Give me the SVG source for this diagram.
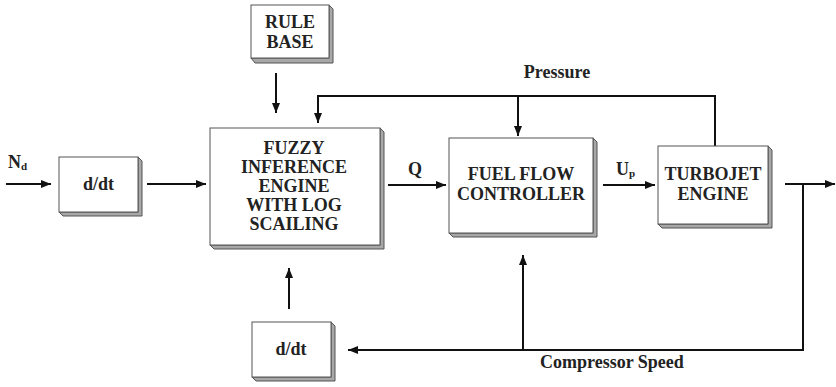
<svg xmlns="http://www.w3.org/2000/svg" width="836" height="387" viewBox="0 0 836 387">
<style>
.box{fill:#fff;stroke:#555;stroke-width:1}
.sh{fill:#a8a8a8;stroke:#555;stroke-width:1}
.t{font-family:"Liberation Serif","Times New Roman",serif;font-weight:bold;font-size:18px;fill:#222;text-anchor:middle}
.l{font-family:"Liberation Serif","Times New Roman",serif;font-weight:bold;font-size:18px;fill:#222}
.c{fill:none;stroke:#111;stroke-width:2}
</style>
<defs>
<marker id="ah" markerUnits="userSpaceOnUse" markerWidth="12" markerHeight="10" refX="10" refY="4" orient="auto">
<path d="M0,0 L10,4 L0,8 Z" fill="#111"/>
</marker>
</defs>
<rect width="836" height="387" fill="#fff"/>

<g id="connectors">
<path class="c" d="M6,184 H51" marker-end="url(#ah)"/>
<path class="c" d="M147,184 H206" marker-end="url(#ah)"/>
<path class="c" d="M276,73 V113" marker-end="url(#ah)"/>
<path class="c" d="M388,185 H446" marker-end="url(#ah)"/>
<path class="c" d="M603,185 H655" marker-end="url(#ah)"/>
<path class="c" d="M785,184 H835" marker-end="url(#ah)"/>
<path class="c" d="M715,151 V96 H318 V123" marker-end="url(#ah)"/>
<path class="c" d="M518,96 V136" marker-end="url(#ah)"/>
<path class="c" d="M803,184 V350 H348" marker-end="url(#ah)"/>
<path class="c" d="M523,350 V255" marker-end="url(#ah)"/>
<path class="c" d="M289,309 V268" marker-end="url(#ah)"/>
</g>

<g id="rule-base">
<polygon class="sh" points="329,5 333,9 333,63 255,63 251,58 329,58"/>
<rect class="box" x="251" y="5" width="78" height="53"/>
<text class="t" x="290" y="28">RULE</text>
<text class="t" x="290" y="48">BASE</text>
</g>

<g id="ddt-top">
<polygon class="sh" points="138,157 142,161 142,216 63,216 59,212 138,212"/>
<rect class="box" x="59" y="157" width="79" height="55"/>
<text class="t" x="98.5" y="190">d/dt</text>
</g>

<g id="fuzzy">
<polygon class="sh" points="380,128 384,132 384,249 214,249 210,245 380,245"/>
<rect class="box" x="210" y="128" width="170" height="117"/>
<text class="t" x="294" y="154">FUZZY</text>
<text class="t" x="294" y="173">INFERENCE</text>
<text class="t" x="294" y="192">ENGINE</text>
<text class="t" x="294" y="211">WITH LOG</text>
<text class="t" x="294" y="230">SCAILING</text>
</g>

<g id="fuel-flow">
<polygon class="sh" points="593,138 597,142 597,237 453,237 449,233 593,233"/>
<rect class="box" x="449" y="138" width="144" height="95"/>
<text class="t" x="521" y="180">FUEL FLOW</text>
<text class="t" x="521" y="200">CONTROLLER</text>
</g>

<g id="turbojet">
<polygon class="sh" points="768,146 772,150 772,228 662,228 658,224 768,224"/>
<rect class="box" x="658" y="146" width="110" height="78"/>
<text class="t" x="713" y="180">TURBOJET</text>
<text class="t" x="713" y="200">ENGINE</text>
</g>

<g id="ddt-bottom">
<polygon class="sh" points="331,322 335,326 335,381 256,381 252,377 331,377"/>
<rect class="box" x="252" y="322" width="79" height="55"/>
<text class="t" x="291" y="355">d/dt</text>
</g>

<g id="labels">
<text class="l" x="8" y="168">N<tspan font-size="11" dy="2">d</tspan></text>
<text class="l" x="408" y="175">Q</text>
<text class="l" x="616" y="175">U<tspan font-size="11" dy="2">p</tspan></text>
<text class="l" x="557" y="78" text-anchor="middle">Pressure</text>
<text class="l" x="540" y="368">Compressor Speed</text>
</g>
</svg>
